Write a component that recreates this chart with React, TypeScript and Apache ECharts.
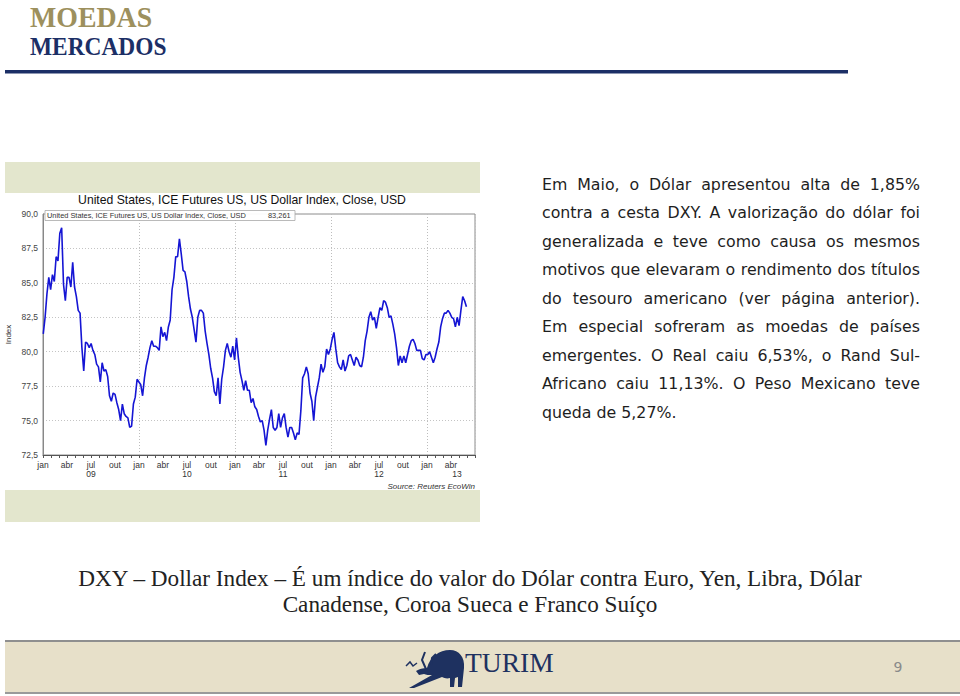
import React, { useEffect, useRef } from "react";
import * as echarts from "echarts";

// ---------- DATA ----------
const firstWeek = "2009-01-02";
// Weekly closes of the US Dollar Index (DXY)
const dxy2009 = [
  81.3, 82.5, 84.2, 85.4, 84.5, 85.6, 85.1, 86.9, 86.6, 88.6,
  89.0, 84.9, 83.7, 85.4, 85.4, 84.7, 86.5, 84.7, 84.0, 83.0,
  82.8, 80.3, 78.6, 80.7, 80.6, 80.3, 80.6, 80.1, 79.8, 79.1,
  78.9, 77.8, 79.2, 78.6, 78.7, 78.2, 76.8, 76.4, 77.0, 76.9,
  76.3, 75.8, 75.0, 76.2, 75.5, 75.3, 75.2, 74.5, 74.6, 76.2,
  76.7, 78.0,
];
const dxy2010 = [
  77.8, 77.6, 76.8, 78.1, 79.0, 79.6, 80.3, 80.8, 80.4, 80.4,
  80.3, 80.1, 81.8, 81.1, 81.4, 80.8, 81.8, 82.3, 84.5, 85.4,
  86.9, 86.9, 88.2, 87.1, 85.9, 85.8, 85.1, 84.0, 83.1, 82.5,
  81.6, 80.7, 82.5, 83.0, 83.0, 82.8, 81.5, 80.6, 79.8, 78.8,
  78.1, 77.1, 76.8, 78.1, 76.2, 78.0, 78.9, 80.1, 80.6, 80.0,
  79.6, 80.4,
];
const dxy2011 = [
  79.4, 81.0, 79.6, 78.5, 77.9, 77.2, 77.9, 77.2, 77.2, 76.3,
  76.6, 76.0, 75.8, 75.3, 74.9, 75.0, 74.3, 73.2, 74.3, 75.1,
  75.8, 74.5, 74.3, 74.5, 75.5, 74.5, 75.2, 75.5, 74.5, 73.8,
  74.5, 74.5, 74.1, 73.6, 74.1, 74.0, 75.7, 78.1, 78.4, 78.9,
  78.4, 77.0, 76.4, 75.0, 76.7, 77.4, 78.1, 79.1, 78.5, 78.9,
  80.2, 79.8,
];
const dxy2012 = [
  80.2, 80.9, 81.4, 80.2, 79.2, 78.9, 78.7, 79.4, 78.6, 79.0,
  79.7, 79.8, 79.4, 79.0, 79.6, 79.4, 79.0, 78.9, 79.6, 80.8,
  81.5, 82.5, 82.9, 82.3, 82.5, 81.7, 82.5, 83.2, 83.0, 83.7,
  83.6, 83.2, 82.5, 82.6, 82.0, 81.3, 80.3, 79.0, 79.7, 79.2,
  79.7, 79.2, 79.8, 80.4, 80.8, 80.9, 80.6, 80.1, 80.1, 80.1,
  79.5, 79.4,
];
const dxy2013 = [
  79.8, 79.8, 80.0, 79.6, 79.2, 79.6, 80.2, 80.7, 81.8, 82.4,
  82.8, 82.8, 83.0, 82.8, 82.5, 82.4, 81.8, 82.5, 81.9, 83.0,
  84.0, 83.7, 83.261,
];
const dxyWeekly = [...dxy2009, ...dxy2010, ...dxy2011, ...dxy2012, ...dxy2013];

const monthTicks = ["jan", "abr", "jul", "out"];
const yearTicks = ["09", "10", "11", "12", "13"];
const yMin = 72.5;
const yMax = 90;
const yStep = 2.5;
const xMaxMonths = 54;

const seriesName = "United States, ICE Futures US, US Dollar Index, Close, USD";
const sourceText = "Source: Reuters EcoWin";
const bodyLines = [
  "Em Maio, o Dólar apresentou alta de 1,85%",
  "contra a cesta DXY. A valorização do dólar foi",
  "generalizada e teve como causa os mesmos",
  "motivos que elevaram o rendimento dos títulos",
  "do tesouro americano (ver página anterior).",
  "Em especial sofreram as moedas de países",
  "emergentes. O Real caiu 6,53%, o Rand Sul-",
  "Africano caiu 11,13%. O Peso Mexicano teve",
  "queda de 5,27%.",
];
const captionLines = [
  "DXY – Dollar Index – É um índice do valor do Dólar contra Euro, Yen, Libra, Dólar",
  "Canadense, Coroa Sueca e Franco Suíço",
];

// ---------- LOGO SHAPE ----------
const bullPath =
  "M22 20 C25 9 34 2 45 2 C54 2 60 9 59 20 L57 39 L53 39 L53 29 L50 30 L49 39 L45 39 L45 30 C42 31 39 30 37 29 L9 40 L4 40 L27 27 C24 27 21 27 19 26 L14 27 L11 23 C14 21 18 20 22 20 Z";
let bullRegistered = false;
function registerBull() {
  if (bullRegistered) return;
  echarts.graphic.registerShape("bull", echarts.graphic.extendPath(bullPath, {}));
  bullRegistered = true;
}

function weekToMonths(i: number): number {
  const t0 = Date.UTC(2009, 0, 1);
  const d = Date.parse(firstWeek + "T00:00:00Z") + i * 7 * 86400000;
  return (d - t0) / 86400000 / 30.4375;
}

export default function App() {
  const ref = useRef<HTMLDivElement>(null);

  useEffect(() => {
    if (!ref.current) return;
    registerBull();
    const chart = echarts.init(ref.current, undefined, { renderer: "svg" });

    const seriesData = dxyWeekly.map((v, i) => [weekToMonths(i), v]);
    const lastValue = dxyWeekly[dxyWeekly.length - 1];

    const navy = "#1c2f66";
    const bodyFont = "15.8px 'DejaVu Sans'";
    const bodyLeft = 542;
    const bodyWidth = 378;

    // justified body text (word placement measured with canvas)
    const canvas = document.createElement("canvas");
    const ctx = canvas.getContext("2d");
    const bodyEls: any[] = [];
    bodyLines.forEach((line, i) => {
      const y = 184 + i * 28.5;
      const words = line.split(" ");
      if (!ctx || i === bodyLines.length - 1 || words.length < 2) {
        bodyEls.push({
          type: "text", x: bodyLeft, y,
          style: { text: line, fill: "#1e1e1e", font: bodyFont, textAlign: "left", textVerticalAlign: "middle" },
        });
        return;
      }
      ctx.font = bodyFont;
      const widths = words.map((w) => ctx.measureText(w).width);
      const total = widths.reduce((a, b) => a + b, 0);
      const gap = (bodyWidth - total) / (words.length - 1);
      let x = bodyLeft;
      words.forEach((w, k) => {
        bodyEls.push({
          type: "text", x, y,
          style: { text: w, fill: "#1e1e1e", font: bodyFont, textAlign: "left", textVerticalAlign: "middle" },
        });
        x += widths[k] + gap;
      });
    });

    const graphic: any[] = [
      // header
      {
        type: "text", x: 30, y: 17, scaleX: 0.96,
        style: { text: "MOEDAS", fill: "#9d905d", font: "bold 29px 'Liberation Serif'", textAlign: "left", textVerticalAlign: "middle" },
      },
      {
        type: "text", x: 30, y: 46, scaleX: 0.9,
        style: { text: "MERCADOS", fill: navy, font: "bold 26px 'Liberation Serif'", textAlign: "left", textVerticalAlign: "middle" },
      },
      { type: "rect", shape: { x: 5, y: 70, width: 843, height: 3.5 }, style: { fill: navy } },
      // chart panel bands
      { type: "rect", shape: { x: 5, y: 162, width: 475, height: 31 }, style: { fill: "#e3e6cd" } },
      { type: "rect", shape: { x: 5, y: 490, width: 475, height: 32 }, style: { fill: "#e3e6cd" } },
      // chart title
      {
        type: "text", x: 242, y: 200,
        style: { text: seriesName, fill: "#111", font: "12.2px 'Liberation Sans'", textAlign: "center", textVerticalAlign: "middle" },
      },
      // inner legend box
      {
        type: "rect", z: 10, shape: { x: 45, y: 210.5, width: 250, height: 10 },
        style: { fill: "rgba(255,255,255,0.95)", stroke: "#a8a8a8", lineWidth: 0.8 },
      },
      {
        type: "text", z: 11, x: 47, y: 215.7,
        style: { text: seriesName, fill: "#333", font: "7.4px 'Liberation Sans'", textAlign: "left", textVerticalAlign: "middle" },
      },
      {
        type: "text", z: 11, x: 268, y: 215.7,
        style: { text: lastValue.toFixed(3).replace(".", ","), fill: "#333", font: "7.4px 'Liberation Sans'", textAlign: "left", textVerticalAlign: "middle" },
      },
      // source
      {
        type: "text", x: 475, y: 486,
        style: { text: sourceText, fill: "#333", font: "italic 8px 'Liberation Sans'", textAlign: "right", textVerticalAlign: "middle" },
      },
      // caption
      ...captionLines.map((t, i) => ({
        type: "text", x: 470, y: 578 + i * 26,
        style: { text: t, fill: "#222", font: "23.2px 'Liberation Serif'", textAlign: "center", textVerticalAlign: "middle" },
      })),
      // footer
      { type: "rect", shape: { x: 5, y: 640, width: 955, height: 2 }, style: { fill: "#8f8f8f" } },
      { type: "rect", shape: { x: 5, y: 642, width: 955, height: 50 }, style: { fill: "#e7e0c9" } },
      { type: "rect", shape: { x: 5, y: 692, width: 955, height: 2 }, style: { fill: "#9a9a9a" } },
      { type: "bull", x: 405, y: 648, scaleX: 1, scaleY: 1, style: { fill: "#1e3160" } },
      { type: "polyline", x: 405, y: 648, shape: { points: [[21, 21], [17, 12], [20, 4]] }, style: { stroke: "#1e3160", lineWidth: 2, fill: null } },
      { type: "polyline", x: 405, y: 648, shape: { points: [[26, 17], [27, 10], [31, 6]] }, style: { stroke: "#1e3160", lineWidth: 2, fill: null } },
      { type: "polyline", x: 405, y: 648, shape: { points: [[1, 18], [5, 14], [8, 18], [12, 15]] }, style: { stroke: "#1e3160", lineWidth: 1.5, fill: null } },
      {
        type: "text", x: 465, y: 662.5,
        style: { text: "TURIM", fill: "#1e3160", font: "27.5px 'Liberation Serif'", textAlign: "left", textVerticalAlign: "middle" },
      },
      {
        type: "text", x: 898, y: 667,
        style: { text: "9", fill: "#8a8a8a", font: "14px 'DejaVu Sans'", textAlign: "center", textVerticalAlign: "middle" },
      },
      ...bodyEls,
    ];

    const xLabel = (v: number) => {
      const m = Math.round(v);
      const q = Math.floor((m % 12) / 3);
      const y = Math.floor(m / 12);
      let s = monthTicks[q];
      if (q === 2 && y < 4) s += "\n" + yearTicks[y];
      if (q === 1 && y === 4) s += "\n{s|" + yearTicks[4] + "}";
      return s;
    };

    chart.setOption({
      animation: false,
      backgroundColor: "#ffffff",
      grid: {
        left: 43, right: 485, top: 214, bottom: 241,
        show: true, borderColor: "#8c8c8c", borderWidth: 1, backgroundColor: "#ffffff",
      },
      xAxis: [
        {
          type: "value", min: 0, max: xMaxMonths, interval: 3,
          axisLine: { show: true, lineStyle: { color: "#555" } },
          axisTick: { show: true, length: 3, lineStyle: { color: "#555" } },
          minorTick: { show: true, splitNumber: 3, length: 3, lineStyle: { color: "#555" } },
          splitLine: { show: false },
          axisLabel: {
            showMaxLabel: false, fontSize: 8.5, color: "#333", fontFamily: "Liberation Sans",
            lineHeight: 9.5, margin: 5, formatter: xLabel,
            rich: { s: { fontSize: 8.5, color: "#333", fontFamily: "Liberation Sans", padding: [0, 0, 0, 12] } },
          },
        },
        {
          type: "value", min: 0, max: xMaxMonths, interval: 12, position: "top",
          axisLine: { show: false }, axisTick: { show: false }, axisLabel: { show: false },
          splitLine: { show: true, lineStyle: { color: "#bdbdbd", type: [1, 2], width: 1 } },
        },
      ],
      yAxis: {
        type: "value", min: yMin, max: yMax, interval: yStep,
        name: "Index", nameLocation: "middle", nameGap: 31,
        nameTextStyle: { fontSize: 8, color: "#333", fontFamily: "Liberation Sans" },
        axisLine: { show: true, lineStyle: { color: "#888" } },
        axisTick: { show: false },
        axisLabel: {
          fontSize: 8.5, color: "#444", fontFamily: "Liberation Sans", margin: 5,
          formatter: (v: number) => v.toFixed(1).replace(".", ","),
        },
        splitLine: { show: true, lineStyle: { color: "#c4c4c4", type: [1, 2], width: 1 } },
      },
      series: [
        {
          type: "line", name: seriesName, xAxisIndex: 0, data: seriesData,
          showSymbol: false, symbol: "none",
          lineStyle: { color: "#1515d4", width: 1.6 },
        },
      ],
      graphic,
    });

    return () => chart.dispose();
  }, []);

  return (
    <div
      ref={ref}
      style={{ position: "fixed", left: 0, top: 0, width: 960, height: 696 }}
    />
  );
}
